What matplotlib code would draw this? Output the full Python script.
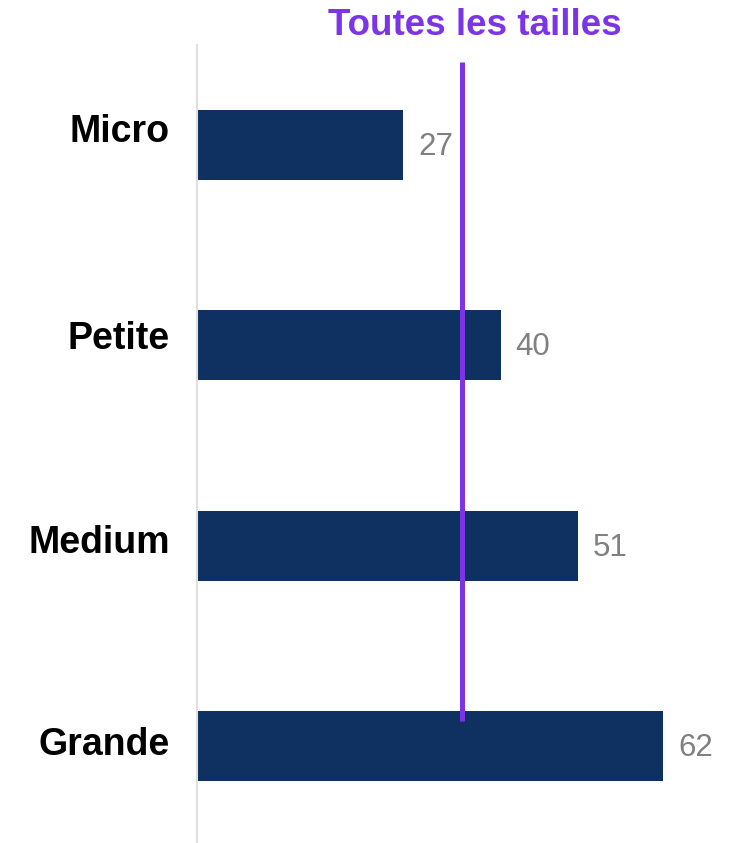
import numpy as np
from matplotlib import pyplot as plt

plt.rcParams['font.family'] = ['Liberation Sans', 'DejaVu Sans']

# data (bar lengths, labels are the rounded values)
categories = ['Micro', 'Petite', 'Medium', 'Grande']
values = [27.4, 40.4, 50.7, 62.0]
all_sizes_label = 'Toutes les tailles'
all_sizes_value = 35.3

bar_color = '#0e3161'
ref_color = '#7b35e6'
W, H = 730, 843

fig = plt.figure(figsize=(W / 100, H / 100), dpi=100)
ax = fig.add_axes([197 / W, 0, 1 - 197 / W, 798 / H])

y = np.arange(len(categories))
ax.barh(y, values, height=0.35, color=bar_color, zorder=2)

for yi, v in zip(y, values):
    ax.annotate(f'{v:.0f}', (v, yi), xytext=(15, -2), textcoords='offset pixels',
                va='center', ha='left', fontsize=22.5, color='#808080')

# reference line for all sizes
ax.plot([all_sizes_value, all_sizes_value], [-0.415, 2.875],
        color=ref_color, lw=3.6, solid_capstyle='butt', zorder=3)
fig.text(475 / W, 1 - 35 / H, all_sizes_label, ha='center', va='baseline',
         fontsize=26.5, fontweight='bold', color=ref_color)

# category labels sit a little above the bar centres
label_dy = [17, 10, 7, 5]
for yi, name, dy in zip(y, categories, label_dy):
    ax.annotate(name, (0, yi), xytext=(-27, dy), textcoords='offset pixels',
                ha='right', va='center_baseline', fontsize=27,
                fontweight='bold', color='black')

ax.set_xlim(0, 70.9)
ax.set_ylim(3.485, -0.5)
ax.set_yticks([])
ax.set_xticks([])
for side in ['top', 'right', 'bottom']:
    ax.spines[side].set_visible(False)
ax.spines['left'].set_color('#e0e0e0')
ax.spines['left'].set_linewidth(1.5)

fig.savefig('out.png', dpi=100)
